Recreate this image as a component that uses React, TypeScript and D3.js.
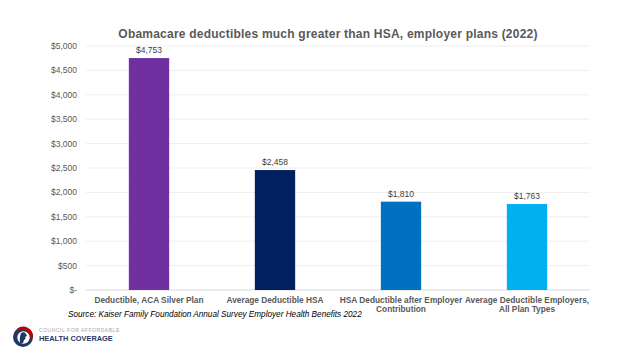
import * as d3 from "d3";

const title = "Obamacare deductibles much greater than HSA, employer plans (2022)";
const categories = [
  ["Deductible, ACA Silver Plan"],
  ["Average Deductible HSA"],
  ["HSA Deductible after Employer", "Contribution"],
  ["Average Deductible Employers,", "All Plan Types"],
];
const values = [4753, 2458, 1810, 1763];
const colors = ["#7030A0", "#002060", "#0070C0", "#00B0F0"];
const yTicks = [0, 500, 1000, 1500, 2000, 2500, 3000, 3500, 4000, 4500, 5000];
const source = "Source: Kaiser Family Foundation Annual Survey Employer Health Benefits 2022";

const W = 624;
const H = 351;
const font = "'Liberation Sans', Arial, sans-serif";

export default function App() {
  const plot = { left: 86, right: 590, top: 46, bottom: 290 };
  const x = d3
    .scaleBand<number>()
    .domain(values.map((_, i) => i))
    .range([plot.left, plot.right])
    .paddingInner(0.68)
    .paddingOuter(0.34);
  const y = d3.scaleLinear().domain([0, 5000]).range([plot.bottom, plot.top]);
  const money = d3.format("$,");

  return (
    <svg
      width={W}
      height={H}
      style={{ position: "absolute", left: 0, top: 0, background: "#fff" }}
      fontFamily={font}
    >
      <text x={328} y={37.5} textAnchor="middle" fontSize="12" fontWeight="bold" letterSpacing="0.22" fill="#595959">
        {title}
      </text>
      {yTicks.map((t) => (
        <g key={t}>
          <line x1={plot.left} x2={plot.right} y1={y(t)} y2={y(t)} stroke={t === 0 ? "#d9d9d9" : "#efefef"} strokeWidth={1} />
          <text x={77} y={y(t) + 3} textAnchor="end" fontSize="8.5" fill="#595959">
            {t === 0 ? "$-" : money(t)}
          </text>
        </g>
      ))}
      {values.map((v, i) => (
        <g key={i}>
          <rect x={x(i)} y={y(v)} width={x.bandwidth()} height={y(0) - y(v)} fill={colors[i]} />
          <text x={(x(i) ?? 0) + x.bandwidth() / 2} y={y(v) - 5} textAnchor="middle" fontSize="8.5" fill="#404040">
            {money(v)}
          </text>
          {categories[i].map((line, j) => (
            <text
              key={j}
              x={(x(i) ?? 0) + x.bandwidth() / 2}
              y={303 + j * 8.5}
              textAnchor="middle"
              fontSize="8.3"
              fontWeight="bold"
              fill="#595959"
            >
              {line}
            </text>
          ))}
        </g>
      ))}
      <text x={68} y={317} fontSize="8.2" fontStyle="italic" fill="#000">
        {source}
      </text>
      {/* logo */}
      <g>
        <circle cx={23} cy={337} r={10} fill="#1f3864" />
        <path d="M 17 328.8 A 10 10 0 0 1 33 338 L 29.5 338 A 6.8 6.8 0 0 0 19 331 Z" fill="#c00000" />
        <circle cx={23.5} cy={337.5} r={6.2} fill="#ffffff" />
        <path d="M 21 333 Q 25 331 26 334 L 27 336 L 25.5 336.5 Q 26 339 24 340 L 23 343 L 20 343 Q 19 338 21 333 Z" fill="#1f3864" />
        <text x={39} y={332} fontSize="5" fill="#a6a6a6" letterSpacing="0.55">
          COUNCIL FOR AFFORDABLE
        </text>
        <text x={39} y={341} fontSize="7.4" fontWeight="bold" fill="#1f3864">
          HEALTH COVERAGE
        </text>
      </g>
    </svg>
  );
}
